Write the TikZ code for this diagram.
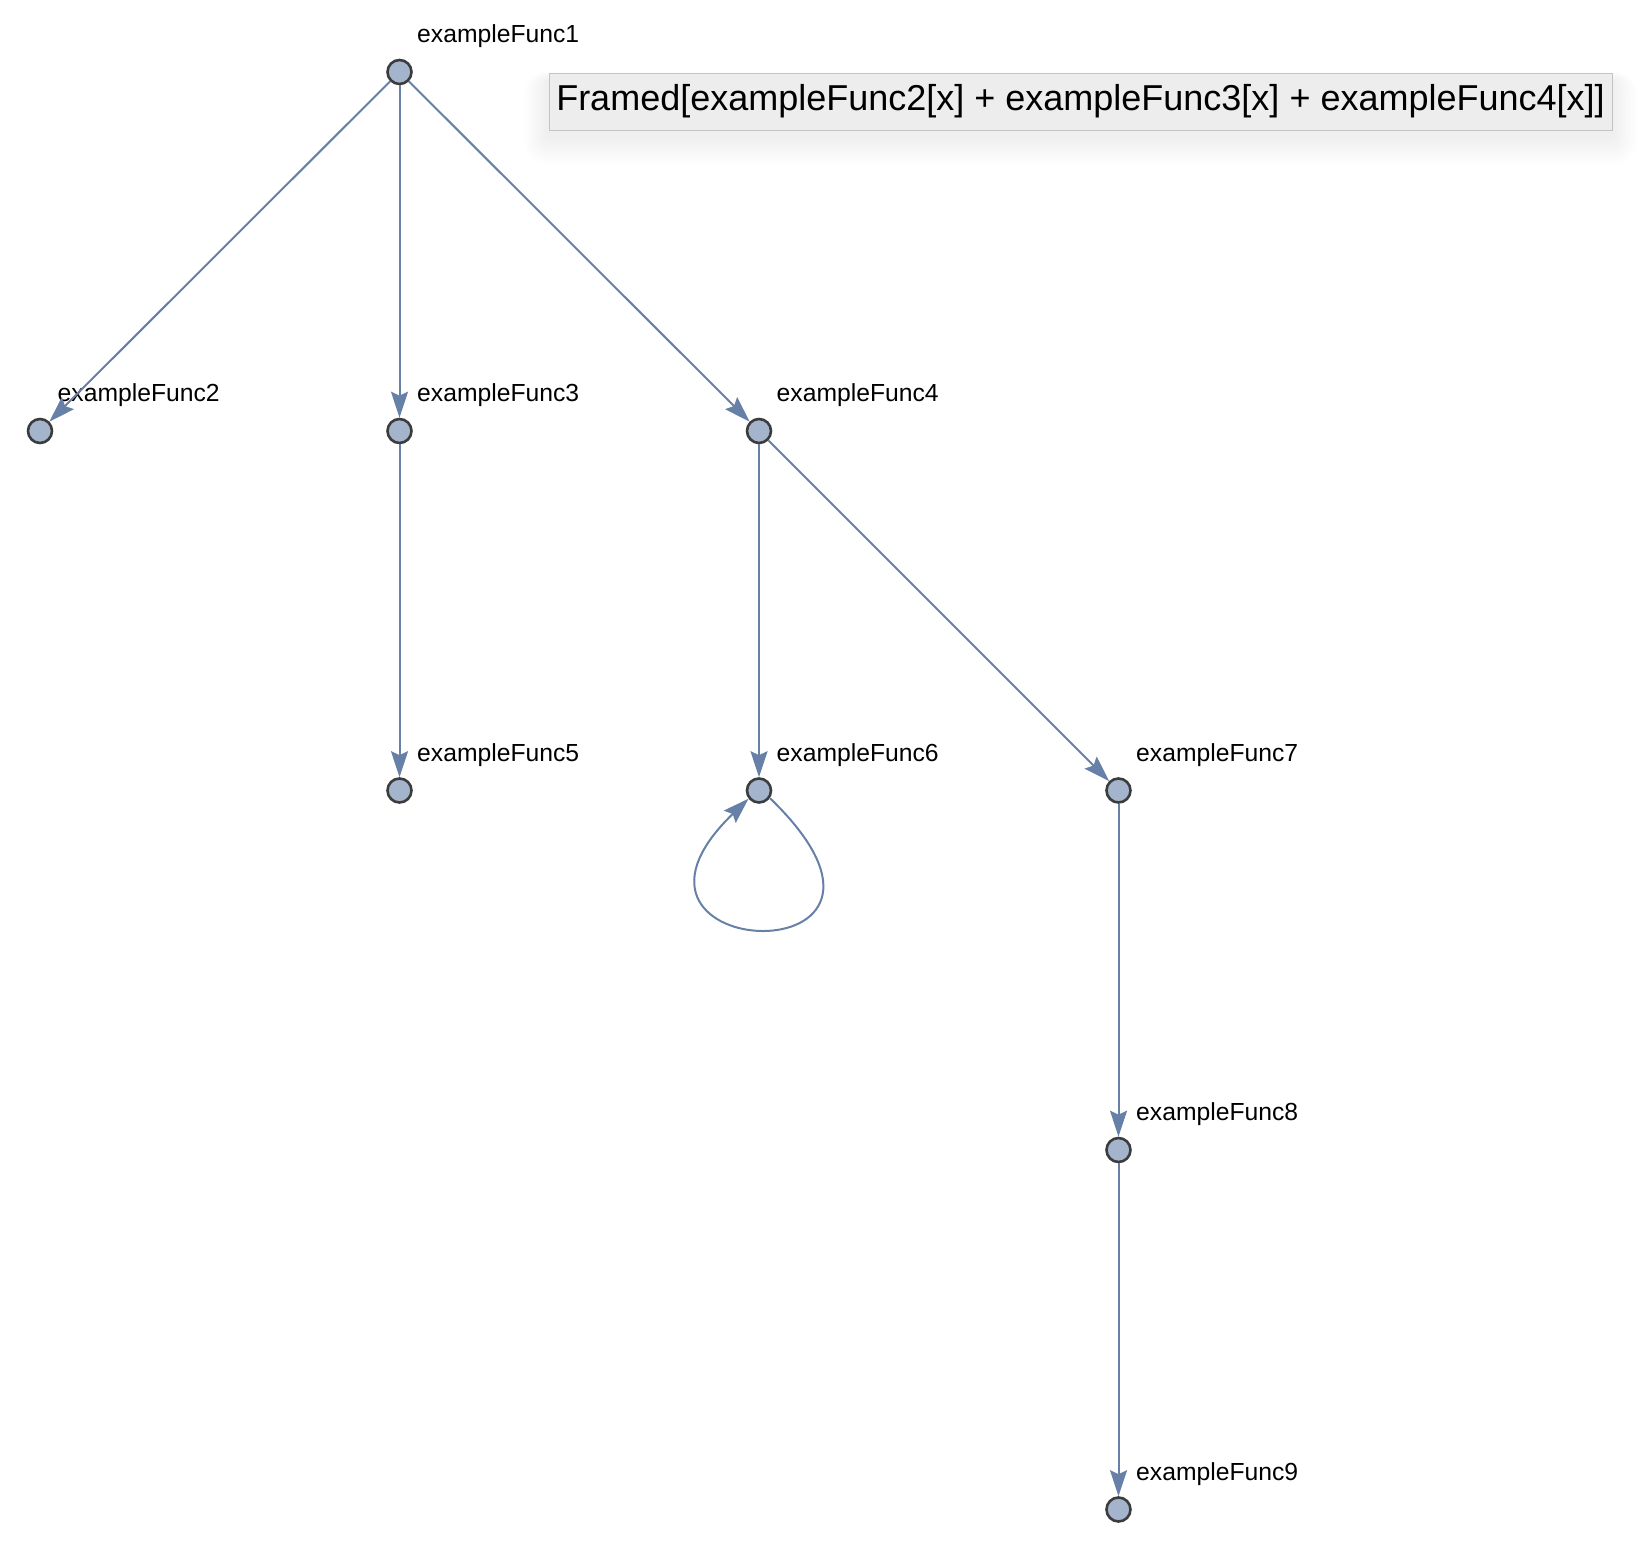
\documentclass[tikz,border=0pt]{standalone}
\usepackage{fontspec}
\setmainfont{Liberation Sans}
\usetikzlibrary{arrows.meta}
\definecolor{vfill}{HTML}{A3B4CC}
\definecolor{vdraw}{HTML}{3C3C3C}
\definecolor{ecol}{HTML}{6680A8}
\definecolor{boxfill}{HTML}{EDEDED}
\definecolor{boxdraw}{HTML}{C4C4C4}
\tikzset{
  vert/.style={circle, fill=vfill, draw=vdraw, line width=2.6pt, minimum size=24pt, inner sep=0pt},
  lbl/.style={anchor=base west, inner sep=0pt, font=\fontsize{24.7}{29}\selectfont},
  edgeline/.style={draw=ecol, line width=2pt, -{Stealth[length=26pt,width=17pt,inset=4pt]}},
  framebox/.style={fill=boxfill, draw=boxdraw, line width=1pt, minimum width=1063pt, minimum height=57pt, inner sep=0pt, font=\fontsize{36}{43}\selectfont}
}
\begin{document}
\begin{tikzpicture}[x=1pt,y=1pt]
\useasboundingbox (0,0) rectangle (1642,1550);
% soft shadow of the framed box
\foreach \i in {1,...,16}{
  \fill[black, opacity=0.0045, rounded corners=1.5*\i pt] (549-1.6*\i, 1420-6-1.8*\i) rectangle (1612+1.6*\i, 1477-8+0.6*\i);
}
\node[framebox] (fr) at (1080.5,1448.3) {Framed[exampleFunc2[x] + exampleFunc3[x] + exampleFunc4[x]]};
% vertices
\node[vert] (n1) at (399.5,1478) {};
\node[vert] (n2) at (40,1119) {};
\node[vert] (n3) at (399.5,1119) {};
\node[vert] (n4) at (759,1119) {};
\node[vert] (n5) at (399.5,759.5) {};
\node[vert] (n6) at (759,759.5) {};
\node[vert] (n7) at (1118.5,759.5) {};
\node[vert] (n8) at (1118.5,400) {};
\node[vert] (n9) at (1118.5,40.5) {};
% labels
\node[lbl] (l1) at ([shift={(17.5,29)}]n1.center) {exampleFunc1};
\node[lbl] (l2) at ([shift={(17.5,29)}]n2.center) {exampleFunc2};
\node[lbl] (l3) at ([shift={(17.5,29)}]n3.center) {exampleFunc3};
\node[lbl] (l4) at ([shift={(17.5,29)}]n4.center) {exampleFunc4};
\node[lbl] (l5) at ([shift={(17.5,29)}]n5.center) {exampleFunc5};
\node[lbl] (l6) at ([shift={(17.5,29)}]n6.center) {exampleFunc6};
\node[lbl] (l7) at ([shift={(17.5,29)}]n7.center) {exampleFunc7};
\node[lbl] (l8) at ([shift={(17.5,29)}]n8.center) {exampleFunc8};
\node[lbl] (l9) at ([shift={(17.5,29)}]n9.center) {exampleFunc9};
% edges
\draw[edgeline] (n1) -- (n2);
\draw[edgeline] (n1) -- (n3);
\draw[edgeline] (n1) -- (n4);
\draw[edgeline] (n3) -- (n5);
\draw[edgeline] (n4) -- (n6);
\draw[edgeline] (n4) -- (n7);
\draw[edgeline] (n7) -- (n8);
\draw[edgeline] (n8) -- (n9);
\draw[edgeline] (n6.-35) .. controls +(-44:262) and +(224:240) .. (n6.218);
\end{tikzpicture}
\end{document}
